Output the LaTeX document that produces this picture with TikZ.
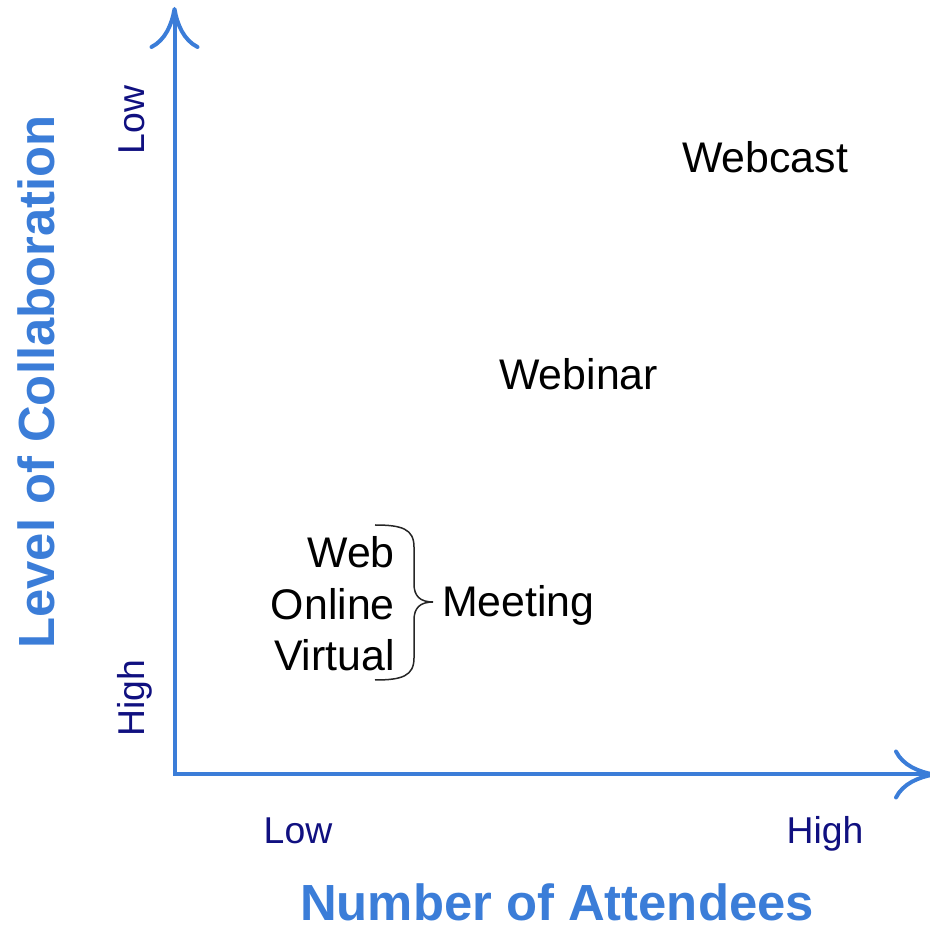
\documentclass[tikz,border=0pt]{standalone}
\usepackage{fontspec}
\setmainfont{Liberation Sans}
\usetikzlibrary{arrows.meta}
\definecolor{axisblue}{RGB}{59,125,216}
\definecolor{ticknavy}{RGB}{16,16,128}
\tikzset{
  axisline/.style={draw=axisblue, line width=4bp, {Computer Modern Rightarrow[length=42bp, width=50bp]}-{Computer Modern Rightarrow[length=42bp, width=50bp]}},
  ticklbl/.style={inner sep=0pt, text=ticknavy, font=\fontsize{37.5}{44}\selectfont},
  axtitle/.style={inner sep=0pt, text=axisblue, font=\bfseries\fontsize{51}{61}\selectfont},
  itemlbl/.style={inner sep=0pt, font=\fontsize{43}{51}\selectfont},
  bracepath/.style={draw=black!85, line width=1.5bp}
}
\begin{document}
\begin{tikzpicture}[x=1bp, y=1bp]
  \useasboundingbox (0,0) rectangle (930,929);
  % axes
  \coordinate (orig) at (174.5,154.5);
  \coordinate (ytip) at (174.5,922);
  \coordinate (xtip) at (936,154.5);
  \draw[axisline] (ytip) -- (orig) -- (xtip);
  % tick labels
  \node[ticklbl, rotate=90, anchor=base] (ylow) at (144,809) {Low};
  \node[ticklbl, rotate=90, anchor=base] (yhigh) at (144,231) {High};
  \node[ticklbl, anchor=base] (xlow) at (298,85) {Low};
  \node[ticklbl, anchor=base] (xhigh) at (825,85) {High};
  % axis titles
  \node[axtitle, rotate=90, anchor=base] (ytitle) at (54,547) {Level of Collaboration};
  \node[axtitle, anchor=base] (xtitle) at (557,8) {Number of Attendees};
  % items
  \node[itemlbl, anchor=base west] (webcast) at (682,756) {Webcast};
  \node[itemlbl, anchor=base west] (webinar) at (499,539) {Webinar};
  \node[itemlbl, anchor=base east] (web) at (395,361) {Web};
  \node[itemlbl, anchor=base east] (online) at (395,309) {Online};
  \node[itemlbl, anchor=base east] (virtual) at (395,258) {Virtual};
  \node[itemlbl, anchor=base west] (meeting) at (442,312) {Meeting};
  % brace
  \coordinate (brtop) at (375,404);
  \coordinate (brtip) at (433,327);
  \coordinate (brbot) at (375,249);
  \draw[bracepath] (brtop) .. controls (402,404) and (414,400) .. (414,382) -- (414,345)
    .. controls (414,333) and (420,327) .. (brtip)
    .. controls (420,327) and (414,321) .. (414,309) -- (414,271)
    .. controls (414,253) and (402,249) .. (brbot);
\end{tikzpicture}
\end{document}
